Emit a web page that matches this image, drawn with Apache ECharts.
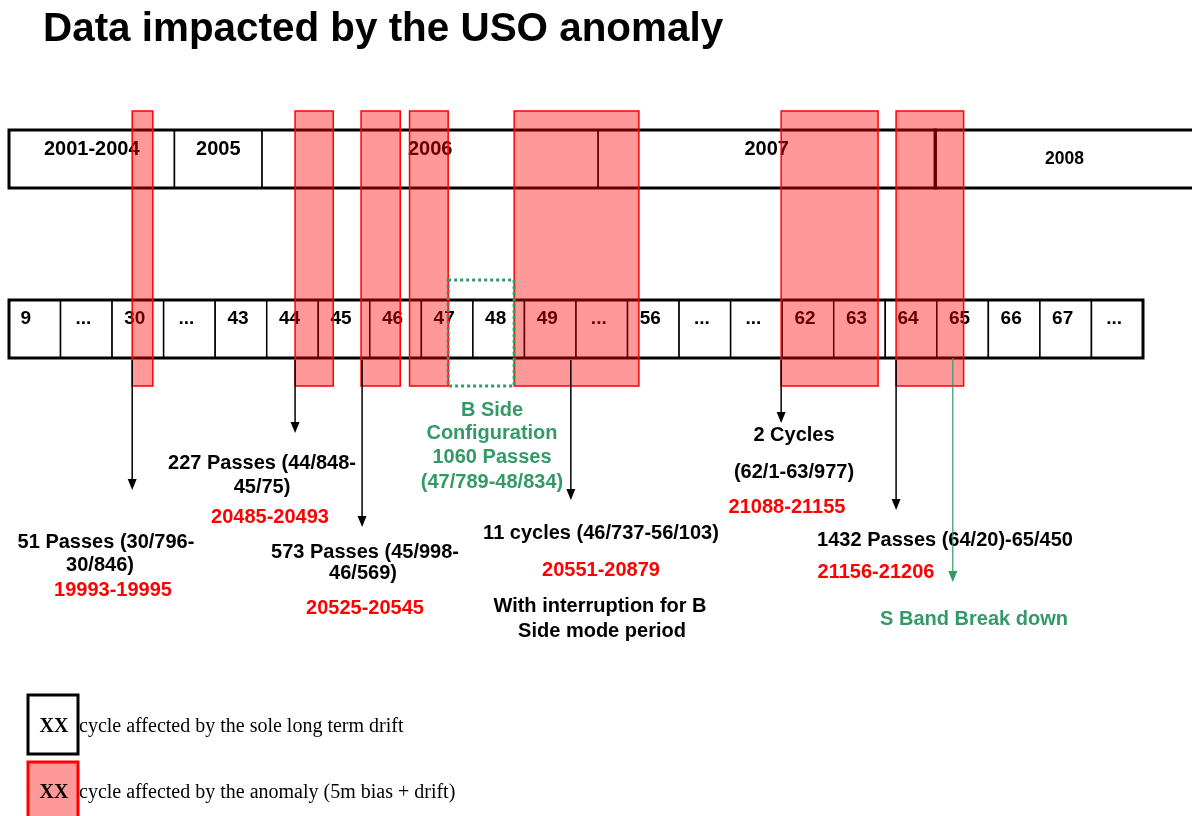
<!DOCTYPE html>
<html>
<head>
<meta charset="utf-8">
<script src="https://cdn.jsdelivr.net/npm/echarts@6/dist/echarts.min.js"></script>
<style>
  html, body { margin: 0; padding: 0; background: #fff; }
  #main { width: 1192px; height: 816px; }
</style>
</head>
<body>
<div id="main"></div>
<script>
var chartDom = document.getElementById('main');
var myChart = echarts.init(chartDom);
var option;

// cycle row (one cell per entry, x axis counts cells)
var cycles = ['9', '...', '30', '...', '43', '44', '45', '46', '47', '48', '49', '...',
  '56', '...', '...', '62', '63', '64', '65', '66', '67', '...'];

// years, spans expressed in cycle cells
var years = ['2001-2004', '2005', '2006', '2007', '2008'];
var yearStart = [0, 3.21, 4.91, 11.43, 17.97];
var yearEnd = [3.21, 4.91, 11.43, 17.97, 23.1];

// periods hit by the USO anomaly (red bands), in cycle cells
var anomalyFrom = [2.39, 5.55, 6.83, 7.77, 9.80, 14.98, 17.21];
var anomalyTo = [2.79, 6.29, 7.59, 8.52, 12.22, 16.86, 18.52];

// B side configuration period
var bSideFrom = [8.52];
var bSideTo = [9.80];

// arrows pointing to the notes
var arrowAt = [2.39, 5.55, 6.85, 10.90, 14.98, 17.21];
var arrowTip = [490, 433, 527, 500, 423, 510];
var sBandAt = [18.31];
var sBandTip = [582];

var notes = [
  '227 Passes (44/848-', '45/75)', '20485-20493',
  '51 Passes (30/796-', '30/846)', '19993-19995',
  '573 Passes (45/998-', '46/569)', '20525-20545',
  'B Side', 'Configuration', '1060 Passes', '(47/789-48/834)',
  '11 cycles (46/737-56/103)', '20551-20879', 'With interruption for B', 'Side mode period',
  '2 Cycles', '(62/1-63/977)', '21088-21155',
  '1432 Passes (64/20)-65/450', '21156-21206',
  'S Band Break down'
];
var noteKind = ['k', 'k', 'r', 'k', 'k', 'r', 'k', 'k', 'r', 'g', 'g', 'g', 'g',
  'k', 'r', 'k', 'k', 'k', 'k', 'r', 'k', 'r', 'g'];

// layout (pixels)
var notePos = [
  [262, 463], [262, 487], [270, 517],
  [106, 542], [100, 565], [113, 590],
  [365, 552], [363, 573], [365, 608],
  [492, 410], [492, 433], [492, 457], [492, 482],
  [601, 533], [601, 570], [600, 606], [602, 631],
  [794, 435], [794, 472], [787, 507],
  [945, 540], [876, 572],
  [974, 619]
];
var L = {
  yearTop: 130, yearBot: 188, yearText: 149,
  cycTop: 300, cycBot: 358, cycText: 319,
  bandTop: 111, bandBot: 386, bSideTop: 280
};
var SANS = '"Liberation Sans", Arial, sans-serif';
var SERIF = '"Liberation Serif", "Times New Roman", serif';
var GREEN = '#339966';
var kindColor = { k: '#000', r: '#ff0000', g: GREEN };

function box(a, b, style) {
  return { type: 'rect', shape: { x: a[0], y: a[1], width: b[0] - a[0], height: b[1] - a[1] }, style: style };
}

var graphics = [{
  type: 'text', x: 43, y: 30,
  style: { text: 'Data impacted by the USO anomaly', font: 'bold 40.4px ' + SANS, fill: '#000', align: 'left', verticalAlign: 'middle' }
}];
notes.forEach(function (t, i) {
  graphics.push({
    type: 'text', x: notePos[i][0], y: notePos[i][1],
    style: { text: t, font: 'bold 20px ' + SANS, fill: kindColor[noteKind[i]], align: 'center', verticalAlign: 'middle' }
  });
});
// legend
graphics.push(
  { type: 'rect', shape: { x: 28, y: 695, width: 50, height: 59 }, style: { fill: '#fff', stroke: '#000', lineWidth: 3 } },
  { type: 'text', x: 54, y: 727, style: { text: 'XX', font: 'bold 20px ' + SERIF, fill: '#000', align: 'center', verticalAlign: 'middle' } },
  { type: 'text', x: 79, y: 727, style: { text: 'cycle affected by the sole long term drift', font: '20px ' + SERIF, fill: '#000', align: 'left', verticalAlign: 'middle' } },
  { type: 'rect', shape: { x: 28, y: 762, width: 50, height: 60 }, style: { fill: '#ff9999', stroke: '#ff0000', lineWidth: 3 } },
  { type: 'text', x: 54, y: 793, style: { text: 'XX', font: 'bold 20px ' + SERIF, fill: '#000', align: 'center', verticalAlign: 'middle' } },
  { type: 'text', x: 79, y: 793, style: { text: 'cycle affected by the anomaly (5m bias + drift)', font: '20px ' + SERIF, fill: '#000', align: 'left', verticalAlign: 'middle' } }
);

option = {
  animation: false,
  backgroundColor: '#fff',
  grid: { left: 9, right: 49, top: 0, bottom: 0 },
  xAxis: { type: 'value', min: 0, max: cycles.length, show: false },
  yAxis: { type: 'value', min: 0, max: 816, inverse: true, show: false },
  graphic: graphics,
  series: [
    {
      // year cells
      type: 'custom',
      data: years.map(function (y, i) { return [yearStart[i], L.yearTop]; }),
      renderItem: function (params, api) {
        var i = params.dataIndex;
        var a = api.coord([yearStart[i], L.yearTop]);
        var b = api.coord([yearEnd[i], L.yearBot]);
        var last = i === years.length - 1;
        var ty = last ? (a[1] + b[1]) / 2 : api.coord([0, L.yearText])[1];
        return {
          type: 'group', children: [
            box(a, b, { fill: '#fff', stroke: '#000', lineWidth: 1.5 }),
            { type: 'text', style: { text: years[i], x: (a[0] + b[0]) / 2 - (last ? 3 : 0), y: ty, align: 'center', verticalAlign: 'middle', font: 'bold ' + (last ? 17.5 : 20) + 'px ' + SANS, fill: '#000' } }
          ]
        };
      }
    },
    {
      // cycle cells
      type: 'custom',
      data: cycles.map(function (c, i) { return [i, L.cycTop]; }),
      renderItem: function (params, api) {
        var i = params.dataIndex;
        var a = api.coord([i, L.cycTop]);
        var b = api.coord([i + 1, L.cycBot]);
        return {
          type: 'group', children: [
            box(a, b, { fill: '#fff', stroke: '#000', lineWidth: 1.5 }),
            { type: 'text', style: { text: cycles[i], x: (a[0] + b[0]) / 2 - (i === 0 ? 9 : 3), y: api.coord([0, L.cycText])[1], align: 'center', verticalAlign: 'middle', font: 'bold 19px ' + SANS, fill: '#000' } }
          ]
        };
      }
    },
    {
      // thick outer frames
      type: 'custom',
      data: [[0, 0], [1, 0], [2, 0]],
      renderItem: function (params, api) {
        var fr = [[0, yearEnd[3], L.yearTop, L.yearBot], [yearStart[4], yearEnd[4], L.yearTop, L.yearBot], [0, cycles.length, L.cycTop, L.cycBot]][params.dataIndex];
        var a = api.coord([fr[0], fr[2]]);
        var b = api.coord([fr[1], fr[3]]);
        return box(a, b, { fill: 'none', stroke: '#000', lineWidth: 3 });
      }
    },
    {
      // anomaly bands
      type: 'custom',
      data: anomalyFrom.map(function (v, i) { return [v, anomalyTo[i]]; }),
      renderItem: function (params, api) {
        var a = api.coord([api.value(0), L.bandTop]);
        var b = api.coord([api.value(1), L.bandBot]);
        return box(a, b, { fill: 'rgba(255,0,0,0.4)', stroke: '#ff0000', lineWidth: 1.5 });
      }
    },
    {
      // B side period
      type: 'custom',
      data: bSideFrom.map(function (v, i) { return [v, bSideTo[i]]; }),
      renderItem: function (params, api) {
        var a = api.coord([api.value(0), L.bSideTop]);
        var b = api.coord([api.value(1), L.bandBot]);
        return box(a, b, { fill: 'none', stroke: GREEN, lineWidth: 3, lineDash: [3, 3] });
      }
    },
    {
      // arrows
      type: 'custom',
      data: arrowAt.map(function (v, i) { return [v, arrowTip[i], 0]; })
        .concat(sBandAt.map(function (v, i) { return [v, sBandTip[i], 1]; })),
      renderItem: function (params, api) {
        var green = api.value(2) === 1;
        var col = green ? GREEN : '#000';
        var a = api.coord([api.value(0), green ? L.cycBot : L.cycBot + 2]);
        var t = api.coord([api.value(0), api.value(1)]);
        return {
          type: 'group', children: [
            { type: 'line', shape: { x1: a[0], y1: a[1], x2: t[0], y2: t[1] - 6 }, style: { stroke: col, lineWidth: green ? 1.2 : 1.5 } },
            { type: 'polygon', shape: { points: [[t[0] - 4.5, t[1] - 11], [t[0] + 4.5, t[1] - 11], [t[0], t[1]]] }, style: { fill: col } }
          ]
        };
      }
    }
  ]
};

option && myChart.setOption(option);
</script>
</body>
</html>
